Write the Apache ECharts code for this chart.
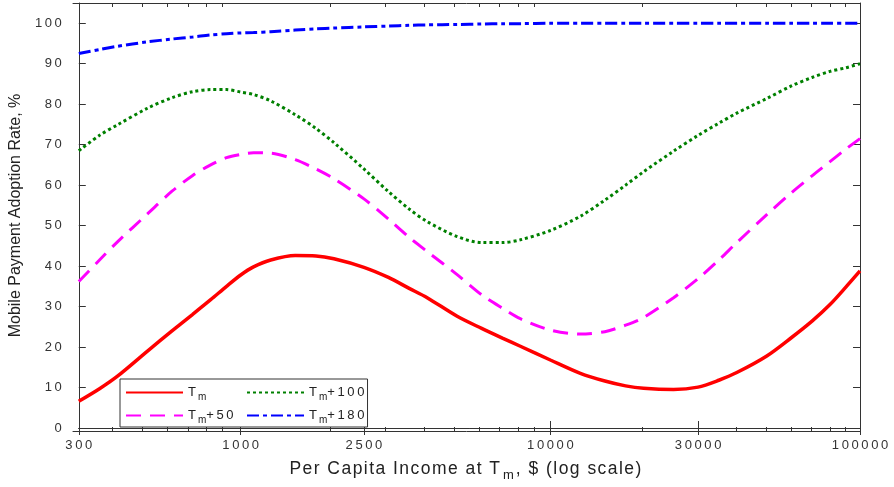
<!DOCTYPE html>
<html>
<head>
<meta charset="utf-8">
<script src="https://cdn.jsdelivr.net/npm/echarts@6/dist/echarts.min.js"></script>
<style>
  html, body { margin: 0; padding: 0; background: #fff; }
  #chart { width: 894px; height: 487px; }
</style>
</head>
<body>
<div id="chart"></div>
<script>
// incomes sampled along the log axis ($)
const incomes = [300, 350, 400, 500, 600, 700, 800, 900, 1000, 1100, 1250, 1500, 1750, 2000, 2500, 3000, 3500, 4000,
  5000, 6000, 7000, 8000, 10000, 12500, 15000, 17500, 20000, 25000, 30000, 35000, 40000, 50000, 60000, 70000, 80000, 90000, 100000];

// adoption rate, %
const tm = [6.6, 9.7, 12.8, 19.0, 24.0, 28.1, 31.7, 35.0, 37.8, 39.8, 41.5, 42.6, 42.5, 41.8, 39.7, 37.2, 34.5, 32.2,
  27.6, 24.6, 22.2, 20.2, 16.8, 13.5, 11.6, 10.4, 9.8, 9.5, 10.1, 11.8, 13.7, 17.8, 22.3, 26.4, 30.5, 34.8, 38.8];
const tm50 = [36.2, 41.5, 46.0, 52.9, 58.5, 62.4, 65.0, 66.8, 67.6, 68.0, 67.9, 66.3, 64.0, 61.6, 56.6, 51.6, 47.1, 43.6,
  37.9, 32.9, 29.6, 27.0, 24.2, 23.2, 23.8, 25.4, 27.3, 32.2, 36.9, 41.5, 45.8, 52.7, 58.1, 62.3, 65.8, 68.9, 71.5];
const tm100 = [68.5, 72.3, 74.9, 79.0, 81.6, 83.1, 83.6, 83.6, 83.0, 82.4, 80.8, 77.4, 74.0, 70.5, 64.0, 58.4, 54.1, 51.0,
  47.3, 45.8, 45.8, 46.5, 48.8, 52.3, 56.3, 60.0, 63.3, 68.4, 72.3, 75.3, 77.8, 81.4, 84.5, 86.6, 88.1, 89.0, 90.0];
const tm180 = [92.5, 93.5, 94.3, 95.4, 96.1, 96.6, 97.1, 97.4, 97.6, 97.7, 97.9, 98.3, 98.6, 98.8, 99.1, 99.3, 99.5, 99.6,
  99.7, 99.8, 99.9, 99.9, 100, 100, 100, 100, 100, 100, 100, 100, 100, 100, 100, 100, 100, 100, 100];

// legend columns
const legendLeftCol = ['Tm', 'Tm+50'];
const legendRightCol = ['Tm+100', 'Tm+180'];

// axis ticks
const xMajor = [300, 1000, 2500, 10000, 30000, 100000];
const xMinor = [400, 500, 600, 700, 800, 900, 2000, 3000, 4000, 5000, 6000, 7000, 8000, 9000,
  20000, 40000, 50000, 60000, 70000, 80000, 90000];
const yTicks = [0, 10, 20, 30, 40, 50, 60, 70, 80, 90, 100];

const chart = echarts.init(document.getElementById('chart'));

const lg = v => Math.log10(v);
const spaced = s => String(s).split('').join('\u2009');
const hair = s => String(s).split('').join('\u200a');
const xMin = lg(300);
const xMax = lg(100000);
const axisColor = '#333';
const gridBox = { left: 73, right: 34, top: 3, bottom: 56 };

const toPoints = vals => incomes.map((x, i) => [lg(x), vals[i]]);

const xAxisBase = (gridIndex, position, ticks, len) => ({
  type: 'value',
  gridIndex: gridIndex,
  position: position,
  min: xMin,
  max: xMax,
  axisLine: { show: true, lineStyle: { color: axisColor, width: 1 } },
  axisTick: { show: true, inside: true, length: len, customValues: ticks.map(lg), lineStyle: { color: axisColor } },
  axisLabel: { show: false },
  splitLine: { show: false }
});

const bottomMajor = xAxisBase(0, 'bottom', xMajor, 7);
bottomMajor.axisLabel = {
  show: true,
  customValues: xMajor.map(lg),
  margin: 11,
  fontFamily: 'Liberation Sans',
  fontSize: 13,
  color: '#333',
  formatter: v => spaced(Math.round(Math.pow(10, v)))
};
bottomMajor.name = hair('Per Capita Income at T') + '{sub|m}' + hair(', $ (log scale)');
bottomMajor.nameLocation = 'middle';
bottomMajor.nameGap = 29;
bottomMajor.nameTextStyle = {
  fontFamily: 'Liberation Sans',
  fontSize: 17.5,
  color: '#222',
  padding: [0, 8, 0, 0],
  rich: { sub: { fontSize: 13, padding: [12, 2, 0, 3], color: '#222' } }
};

const yAxisBase = (gridIndex, position) => ({
  type: 'value',
  gridIndex: gridIndex,
  position: position,
  min: 0,
  max: 105,
  axisLine: { show: true, lineStyle: { color: axisColor, width: 1 } },
  axisTick: { show: true, inside: true, length: 7, customValues: yTicks, lineStyle: { color: axisColor } },
  axisLabel: { show: false },
  splitLine: { show: false }
});

const yLeft = yAxisBase(0, 'left');
yLeft.axisLabel = {
  show: true,
  customValues: yTicks,
  margin: 17,
  fontFamily: 'Liberation Sans',
  fontSize: 13,
  color: '#333',
  formatter: v => spaced(v)
};
yLeft.name = 'Mobile Payment Adoption Rate, %';
yLeft.nameLocation = 'middle';
yLeft.nameRotate = 90;
yLeft.nameGap = 39;
yLeft.nameTextStyle = { fontFamily: 'Liberation Sans', fontSize: 16, color: '#222' };

const hiddenY = { type: 'value', gridIndex: 1, min: 0, max: 105, show: false };

const lineSeries = (name, vals, color, width, type) => ({
  name: name,
  type: 'line',
  xAxisIndex: 0,
  yAxisIndex: 0,
  data: toPoints(vals),
  smooth: 0.3,
  symbol: 'none',
  lineStyle: { color: color, width: width, type: type, cap: 'butt' },
  itemStyle: { color: color },
  z: 3
});

const legendBase = (names, left, padding, boxed) => ({
  data: names,
  left: left,
  top: 379,
  orient: 'vertical',
  padding: padding,
  itemGap: 7,
  itemWidth: 57,
  itemHeight: 14,
  backgroundColor: boxed ? '#fff' : 'transparent',
  borderColor: '#333',
  borderWidth: boxed ? 1 : 0,
  borderRadius: 0,
  itemStyle: { opacity: 0 },
  z: boxed ? 4 : 5,
  textStyle: {
    fontFamily: 'Liberation Sans',
    fontSize: 13,
    color: '#222',
    rich: { sub: { fontSize: 10, padding: [9, 0, 0, 2], color: '#222' } }
  },
  formatter: name => 'T{sub|m}' + spaced(name.slice(2))
});

const option = {
  animation: false,
  backgroundColor: '#fff',
  grid: [
    Object.assign({}, gridBox),
    Object.assign({}, gridBox)
  ],
  xAxis: [
    bottomMajor,
    xAxisBase(0, 'top', xMajor, 7),
    xAxisBase(1, 'bottom', xMinor, 4),
    xAxisBase(1, 'top', xMinor, 4)
  ],
  yAxis: [
    yLeft,
    yAxisBase(0, 'right'),
    hiddenY
  ],
  legend: [
    legendBase(legendLeftCol, 120, [7, 134, 2, 5], true),
    legendBase(legendRightCol, 241, [7, 5, 2, 5], false)
  ],
  series: [
    lineSeries('Tm', tm, '#ff0000', 3.5, 'solid'),
    lineSeries('Tm+50', tm50, '#ff00ff', 3, [15, 9]),
    lineSeries('Tm+100', tm100, '#008000', 3, [3, 3]),
    lineSeries('Tm+180', tm180, '#0000ff', 3, [12, 4, 4, 4])
  ]
};

chart.setOption(option);
</script>
</body>
</html>
